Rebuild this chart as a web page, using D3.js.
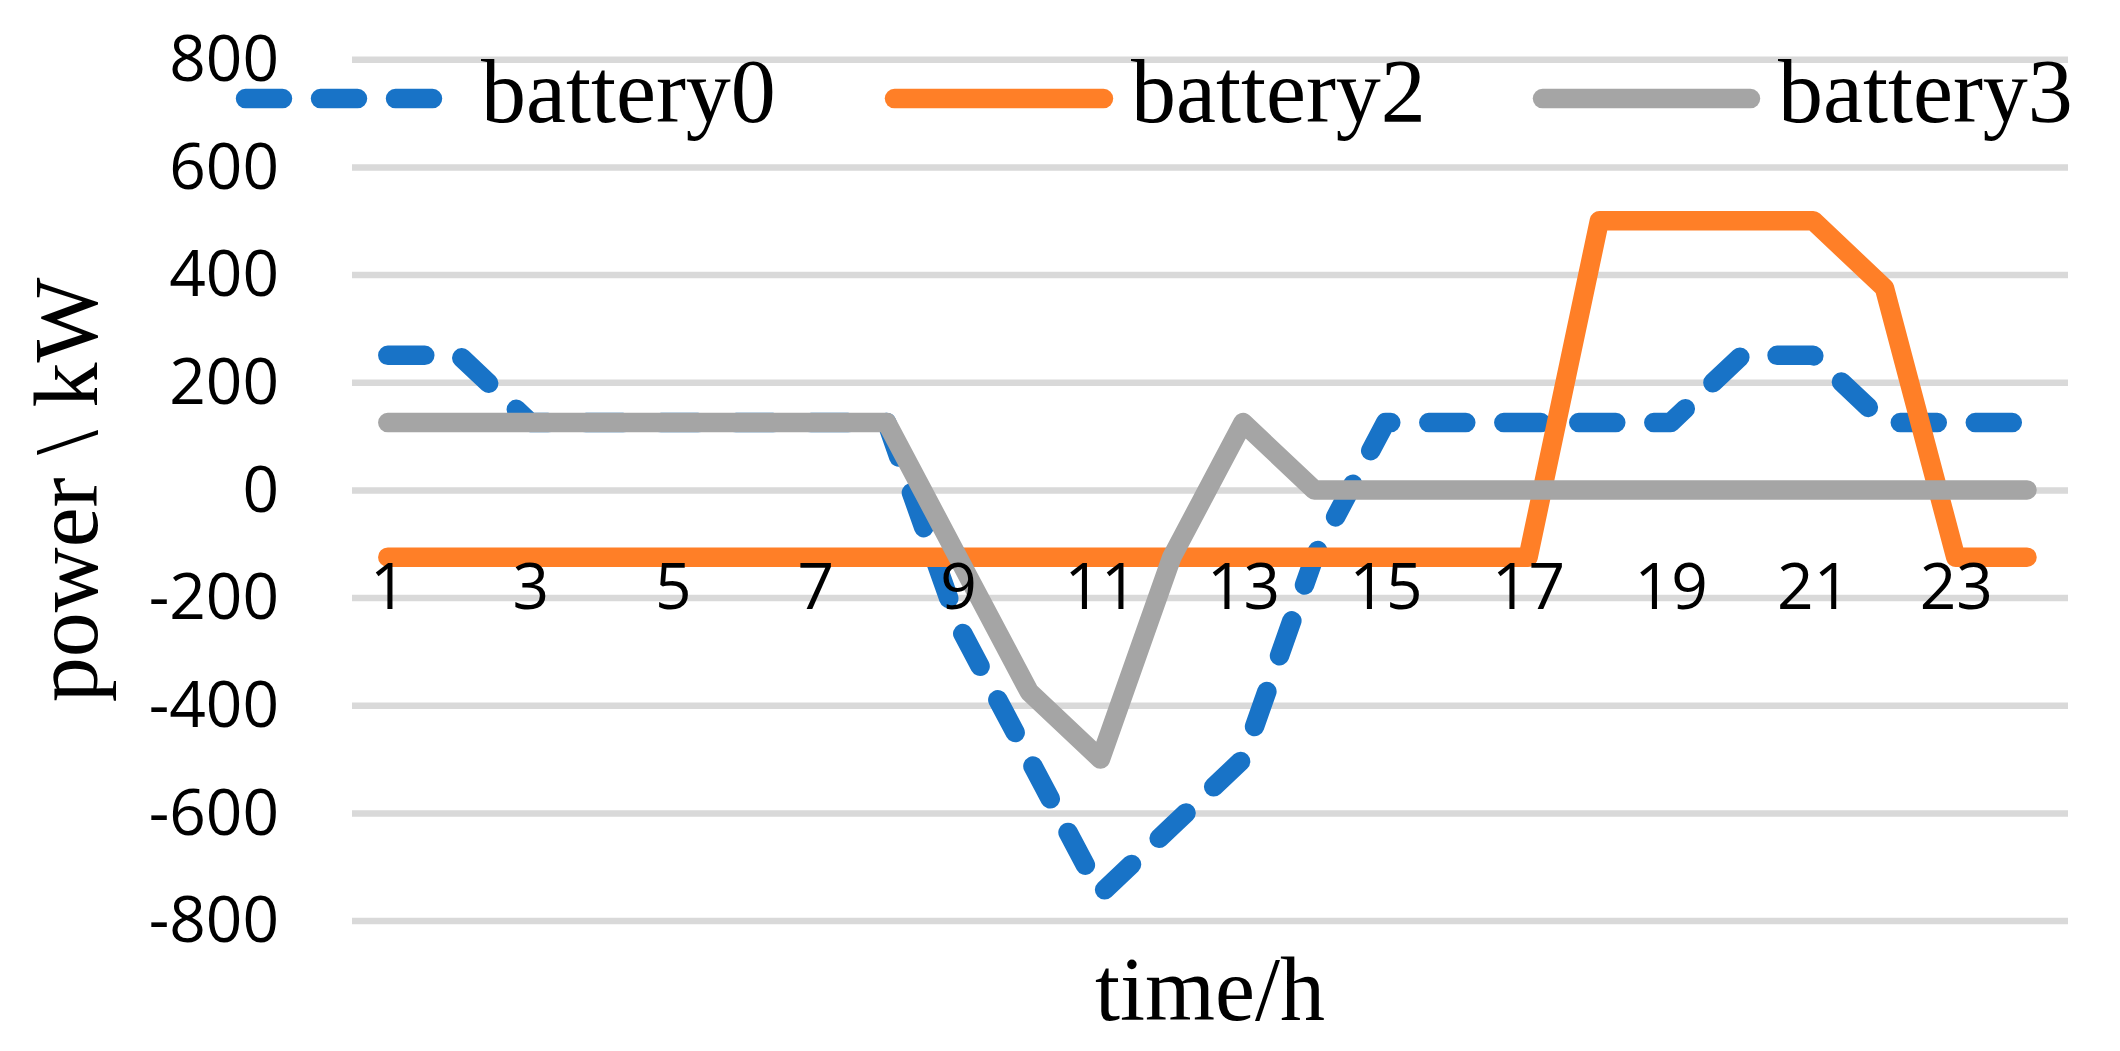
<!DOCTYPE html>
<html>
<head>
<meta charset="utf-8">
<script src="https://cdn.jsdelivr.net/npm/d3@7"></script>
<style>
  html, body { margin: 0; padding: 0; background: #ffffff; }
  svg { display: block; }
</style>
</head>
<body>
<script>
// ---- data ----
const categories = [1,2,3,4,5,6,7,8,9,10,11,12,13,14,15,16,17,18,19,20,21,22,23,24];
const xTickLabels = [1,3,5,7,9,11,13,15,17,19,21,23];
const yTicks = [-800,-600,-400,-200,0,200,400,600,800];
const seriesNames = ["battery0", "battery2", "battery3"];
const battery0 = [250,250,125,125,125,125,125,125,-250,-500,-750,-625,-500,-125,125,125,125,125,125,250,250,125,125,125];
const battery2 = [-125,-125,-125,-125,-125,-125,-125,-125,-125,-125,-125,-125,-125,-125,-125,-125,-125,500,500,500,500,375,-125,-125];
const battery3 = [125,125,125,125,125,125,125,125,-125,-375,-500,-125,125,0,0,0,0,0,0,0,0,0,0,0];
const xTitle = "time/h";
const yTitle = "power \\ kW";

// ---- layout ----
const W = 2120, H = 1051;
const plot = { left: 352, right: 2068, top: 59.2, bottom: 920.6 };
const colors = { battery0: "#1873C7", battery2: "#FF7F27", battery3: "#A5A5A5" };
const lineW = 19.5;

const svg = d3.select("body").append("svg").attr("width", W).attr("height", H);

const x = d3.scalePoint().domain(categories).range([387.8, 2027]);
const y = d3.scaleLinear().domain([-800, 800]).range([plot.bottom, plot.top]);

// gridlines + y tick labels
const yAxis = svg.append("g")
  .attr("transform", `translate(${plot.left},0)`)
  .call(d3.axisLeft(y).tickValues(yTicks).tickSize(-(plot.right - plot.left)).tickPadding(73).tickFormat(d3.format("d")));
yAxis.select(".domain").remove();
yAxis.selectAll(".tick line").attr("stroke", "#D9D9D9").attr("stroke-width", 6.5);
yAxis.selectAll(".tick text")
  .attr("font-family", "'Open Sans', 'Liberation Sans', sans-serif")
  .attr("font-size", 64).attr("fill", "#000").attr("dy", "0.33em")
  .text(d => d < 0 ? "-" + Math.abs(d) : d);

// lines
const line = d3.line().x((d, i) => x(categories[i])).y(d => y(d));
const seriesData = { battery0, battery2, battery3 };
seriesNames.forEach(name => {
  const p = svg.append("path")
    .datum(seriesData[name])
    .attr("d", line)
    .attr("fill", "none")
    .attr("stroke", colors[name])
    .attr("stroke-width", lineW)
    .attr("stroke-linejoin", "round")
    .attr("stroke-linecap", "round");
  if (name === "battery0") p.attr("stroke-dasharray", "37 38");
});

// x tick labels (drawn above the lines, as in the reference)
const xAxis = svg.append("g")
  .attr("transform", `translate(0,609)`)
  .call(d3.axisBottom(x).tickValues(xTickLabels).tickSize(0).tickPadding(0));
xAxis.select(".domain").remove();
xAxis.selectAll(".tick text")
  .attr("font-family", "'Open Sans', 'Liberation Sans', sans-serif")
  .attr("font-size", 64).attr("fill", "#000").attr("y", 0).attr("dy", 0);

// legend
const legendItems = [
  { name: "battery0", x1: 245.5, x2: 433.5, tx: 481 },
  { name: "battery2", x1: 894.5, x2: 1103.5, tx: 1131 },
  { name: "battery3", x1: 1542.5, x2: 1750.5, tx: 1778 }
];
const lg = svg.append("g");
legendItems.forEach(it => {
  const l = lg.append("line")
    .attr("x1", it.x1).attr("x2", it.x2).attr("y1", 98.6).attr("y2", 98.6)
    .attr("stroke", colors[it.name]).attr("stroke-width", lineW)
    .attr("stroke-linecap", "round");
  if (it.name === "battery0") l.attr("stroke-dasharray", "37 38");
  lg.append("text")
    .attr("x", it.tx).attr("y", 122)
    .attr("font-family", "'Liberation Serif', 'Times New Roman', serif")
    .attr("font-size", 90).attr("fill", "#000")
    .text(it.name);
});

// axis titles
svg.append("text")
  .attr("x", (plot.left + plot.right) / 2).attr("y", 1020)
  .attr("text-anchor", "middle")
  .attr("font-family", "'Liberation Serif', 'Times New Roman', serif")
  .attr("font-size", 90).attr("fill", "#000")
  .text(xTitle);

svg.append("text")
  .attr("transform", `translate(97,${y(0)}) rotate(-90)`)
  .attr("text-anchor", "middle")
  .attr("font-family", "'Liberation Serif', 'Times New Roman', serif")
  .attr("font-size", 90).attr("fill", "#000")
  .text(yTitle);
</script>
</body>
</html>
